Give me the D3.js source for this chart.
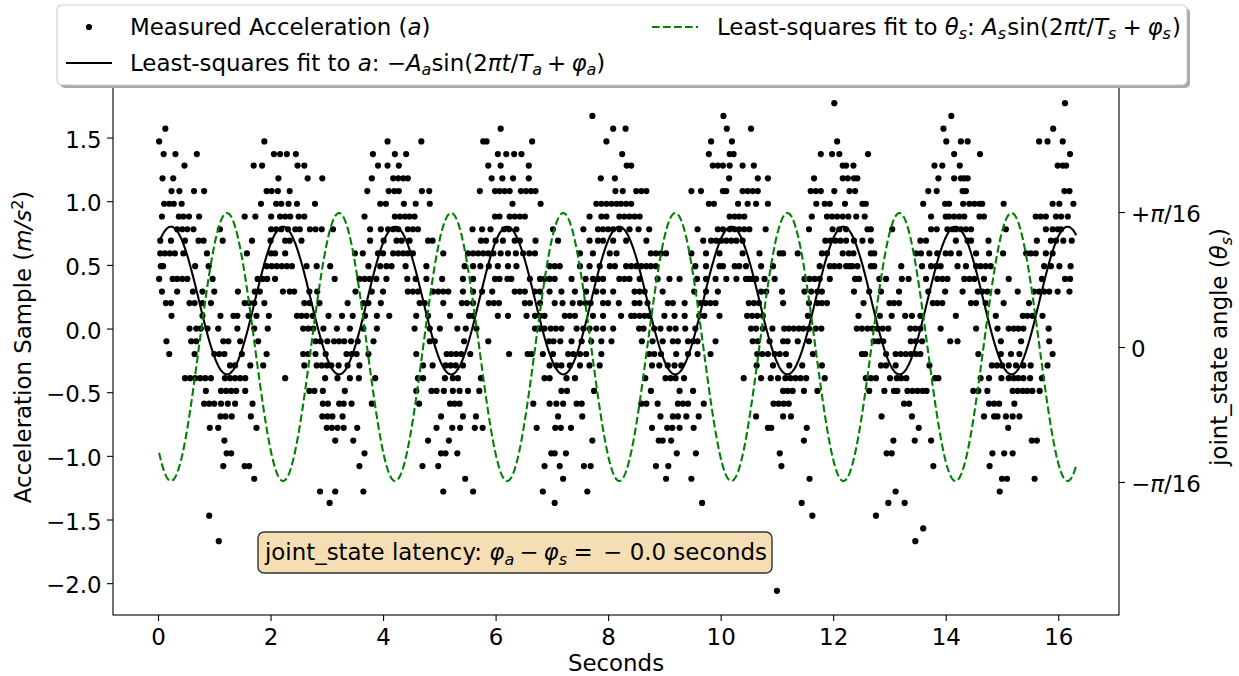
<!DOCTYPE html>
<html><head><meta charset="utf-8">
<script src="https://cdn.jsdelivr.net/npm/d3@7"></script>
<style>
body{margin:0;background:#fff}
svg{display:block}
text{font-family:"DejaVu Sans",sans-serif;white-space:pre;fill:#000}
</style>
</head><body>
<div id="chart"></div>
<script>
// ---- data ----
// acceleration samples are quantized; each level lists the times (s) at which it was observed
const accelLevels = [1.77,1.67,1.57,1.47,1.37,1.28,1.18,1.08,0.98,0.88,0.78,0.69,0.59,0.49,0.39,0.29,0.20,0.10,0.00,-0.10,-0.20,-0.29,-0.39,-0.49,-0.59,-0.69,-0.78,-0.88,-0.98,-1.08,-1.18,-1.28,-1.37,-1.47,-1.57,-1.67,-2.06];
const accelTimes = [
 [12.02,16.12],
 [7.72,10.05,14.10],
 [0.13,6.09,8.09,8.31,10.11,10.54,13.96,15.91],
 [0.02,1.89,4.08,4.68,5.78,5.84,6.65,7.97,9.83,10.20,12.07,14.01,14.27,14.39,15.66,15.81,16.08],
 [0.10,0.31,0.69,2.06,2.17,2.29,2.45,3.82,4.21,4.41,6.04,6.19,6.33,6.46,8.25,9.79,10.16,10.23,11.78,11.98,12.11,12.62,14.15,14.61,16.21],
 [0.47,1.70,1.85,2.48,2.60,3.91,4.08,4.28,5.87,6.09,6.59,8.33,8.41,9.86,9.95,10.04,10.16,10.39,10.59,12.17,12.23,12.36,13.80,13.94,14.25,15.99,16.08,16.14],
 [0.08,0.27,2.14,2.66,2.92,3.80,4.18,4.27,4.36,4.44,5.93,6.12,6.31,6.59,7.87,8.12,10.15,10.66,10.84,11.66,12.17,12.26,12.37,12.43,13.87,14.15,14.27,14.33,14.39],
 [0.24,0.38,0.64,0.82,1.93,2.02,2.13,2.34,3.72,4.10,4.20,4.28,4.69,4.82,5.72,5.99,6.07,6.16,6.25,6.45,6.54,6.63,6.71,8.13,8.26,8.50,8.59,8.68,9.48,9.65,10.04,10.10,10.39,10.48,10.57,10.66,11.60,11.69,11.78,12.02,12.29,12.39,13.69,13.84,14.30,14.36,16.11,16.20],
 [0.11,0.20,0.28,0.42,1.83,2.10,2.19,2.32,2.47,2.79,3.95,4.05,4.37,4.58,4.83,6.30,6.80,7.79,7.88,7.97,8.06,8.15,8.23,8.32,8.41,9.79,9.88,10.31,10.48,10.63,10.84,11.70,11.85,11.94,12.21,12.52,12.58,13.60,13.99,14.06,14.31,14.42,14.51,14.60,14.65,15.03,15.90,16.02,16.27],
 [0.07,0.37,0.45,0.55,0.73,1.54,1.73,2.01,2.17,2.26,2.35,2.50,2.60,3.67,4.21,4.30,4.39,4.47,4.56,5.99,6.07,6.25,6.34,6.43,6.52,7.67,7.88,7.97,8.20,8.29,8.38,8.47,8.56,10.16,10.25,10.33,10.42,11.62,11.89,11.98,12.07,12.17,12.27,12.41,12.56,13.74,14.00,14.06,14.15,14.24,14.33,14.60,14.68,15.60,15.69,15.78,15.96,16.05,16.17],
 [0.34,0.43,0.52,0.63,1.10,2.01,2.10,2.19,2.31,2.44,2.52,2.70,2.80,2.91,3.11,3.77,3.96,4.09,4.18,4.27,4.44,4.53,4.62,5.59,5.76,5.91,6.15,6.24,6.37,7.02,7.56,7.82,7.91,8.00,8.09,8.20,8.38,8.54,8.73,9.59,9.95,10.04,10.16,10.25,10.33,10.42,10.51,10.80,11.57,11.99,12.11,12.23,12.61,12.67,13.05,13.74,13.84,14.03,14.12,14.18,14.27,14.36,14.45,15.07,15.78,15.90,15.99,16.05],
 [0.04,0.23,0.48,0.72,0.81,1.15,1.67,2.00,2.26,2.34,2.55,3.77,4.01,4.24,4.33,4.47,4.80,4.88,5.74,5.83,6.00,6.13,6.34,6.43,6.71,7.11,7.67,7.82,7.91,8.09,8.32,8.68,9.69,9.83,9.92,10.01,10.10,10.19,10.28,10.39,11.86,11.95,12.04,12.13,12.23,12.37,12.52,12.67,13.55,13.65,14.18,14.39,14.45,14.76,15.62,15.87,15.96,16.09,16.24],
 [0.04,0.12,0.21,0.30,0.45,0.87,1.58,2.01,2.08,2.26,3.50,3.64,3.91,4.00,4.18,4.27,4.36,4.44,4.53,5.07,5.51,5.60,5.69,5.78,5.87,5.96,6.09,6.22,6.36,6.49,6.60,6.70,7.50,7.73,8.03,8.15,8.76,8.85,8.94,9.03,9.48,9.74,9.98,10.39,10.69,11.05,11.11,11.37,11.80,11.89,12.17,12.28,12.36,12.67,12.73,13.47,13.56,13.71,13.85,14.00,14.09,14.24,14.54,14.77,15.02,15.43,15.51,15.60,15.78,15.90],
 [0.05,0.09,0.66,0.90,1.93,2.02,2.11,2.20,2.29,2.38,2.64,2.82,3.06,3.74,3.95,4.06,4.15,4.40,4.77,5.45,5.60,5.73,5.88,6.04,6.22,6.37,6.96,7.05,7.14,7.50,7.67,7.85,8.03,8.12,8.32,8.41,8.50,8.59,8.68,8.76,8.85,9.55,9.74,9.98,10.04,10.25,10.33,10.45,10.72,10.93,11.76,11.94,12.02,12.11,12.23,12.29,12.34,12.43,12.67,12.73,13.21,13.58,13.74,13.83,13.91,14.21,14.36,14.54,14.62,14.71,14.80,15.75,15.87,16.02,16.22],
 [0.02,0.26,0.34,0.43,0.52,0.97,1.77,1.86,1.94,2.08,3.14,3.58,3.67,3.76,3.88,4.06,4.43,4.58,4.77,5.05,5.42,5.60,5.99,6.07,6.21,6.28,6.61,6.79,6.87,6.96,7.05,7.35,7.60,7.73,7.82,7.91,8.20,8.29,8.38,8.56,8.88,9.09,9.27,9.58,9.74,9.91,10.10,10.28,10.45,10.51,10.57,10.63,10.78,10.96,11.49,11.58,11.67,11.76,11.94,12.39,12.46,12.82,12.94,13.22,13.34,13.65,13.85,13.94,14.03,14.33,14.42,14.51,14.68,15.12,15.71,16.12,16.21],
 [0.07,0.34,0.62,0.79,1.00,1.42,1.72,1.81,2.22,2.34,2.42,2.69,2.83,3.51,3.80,4.00,4.44,4.53,4.62,4.89,4.98,5.07,5.16,5.42,5.60,5.76,5.94,6.34,6.43,6.52,6.70,6.79,6.96,7.17,7.41,7.61,7.79,7.91,8.09,8.47,8.56,8.65,8.97,9.53,9.74,9.95,10.72,10.81,11.09,11.49,11.61,11.72,11.80,12.37,12.64,12.85,13.17,13.69,13.99,14.30,14.57,14.65,14.74,14.92,15.28,15.57,15.66,15.75,15.84,15.99,16.20],
 [0.14,0.23,0.56,0.65,0.79,0.94,1.54,1.62,1.71,1.89,2.60,2.69,2.87,3.37,3.65,3.74,3.96,4.65,4.74,5.07,5.40,5.49,5.60,5.88,5.97,6.06,6.52,6.61,6.79,7.05,7.19,7.37,7.50,7.60,7.69,7.91,8.00,8.19,8.47,8.56,8.70,9.06,9.15,9.36,9.64,9.73,9.82,9.91,10.50,10.59,10.68,11.11,11.57,11.72,11.80,11.89,12.54,13.00,13.08,13.17,13.77,13.85,13.94,14.45,14.54,14.71,15.03,15.48],
 [0.24,0.79,1.11,1.34,1.41,1.61,1.75,1.97,2.47,2.55,2.64,2.75,3.03,3.27,3.46,3.68,3.89,4.11,4.59,4.80,5.19,5.53,5.60,6.04,6.22,6.55,6.70,6.79,6.87,7.23,7.32,7.41,7.73,7.91,8.23,8.41,8.47,8.56,8.65,8.73,9.00,9.18,9.36,9.62,9.71,9.98,10.47,10.56,10.65,10.75,11.55,12.45,12.83,13.04,13.28,13.40,13.55,14.18,14.89,15.37,15.45,15.54,15.72],
 [0.56,0.68,0.76,0.88,1.07,1.41,1.71,1.95,2.58,2.67,2.76,2.94,3.18,3.41,3.65,3.89,4.56,4.83,5.01,5.32,5.47,5.66,6.70,6.79,6.87,6.98,7.07,7.17,7.44,7.56,7.67,7.79,7.91,8.09,8.55,8.63,8.82,8.93,9.09,9.20,9.37,9.55,10.54,10.63,10.75,10.92,11.13,11.21,11.30,11.39,11.47,11.57,11.69,11.79,12.42,12.51,12.61,12.70,12.79,12.88,12.98,13.37,13.46,13.55,13.91,14.54,14.92,15.12,15.21,15.29,15.38,15.83],
 [0.15,0.59,0.68,1.16,1.25,1.46,1.78,2.80,2.89,3.01,3.13,3.22,3.31,3.43,3.55,3.83,4.83,4.92,5.44,5.87,6.95,7.03,7.15,7.35,7.53,7.70,7.88,8.06,8.60,8.79,8.97,9.15,9.24,9.42,9.51,9.59,9.91,10.57,10.66,10.87,11.11,11.19,11.37,11.57,12.72,12.80,12.89,13.38,13.47,13.58,14.08,14.21,14.98,15.34,15.84],
 [0.20,0.65,1.00,1.09,1.18,1.49,1.93,2.58,2.67,2.80,2.98,3.35,3.44,3.53,3.74,4.59,5.13,5.21,5.30,5.39,5.55,6.24,6.57,6.64,6.84,7.02,7.29,7.38,7.50,7.61,7.88,8.73,8.82,8.94,9.21,9.42,9.59,9.82,10.65,10.74,10.84,10.96,11.05,11.16,11.64,12.51,12.57,12.94,13.11,13.20,13.29,13.38,13.47,13.55,14.58,14.98,15.16,15.31,15.90],
 [1.28,1.37,1.64,1.87,2.60,2.82,2.91,3.00,3.08,3.21,3.37,3.58,4.71,4.88,5.11,5.20,5.29,5.42,6.96,7.08,7.17,7.32,7.50,7.67,7.85,8.78,8.91,9.06,9.18,9.30,10.64,10.93,11.22,11.45,11.80,12.85,12.94,13.11,13.71,14.82,14.91,15.00,15.12,15.25,15.38,15.51,15.81],
 [0.48,0.57,0.66,0.75,0.84,0.94,1.19,1.28,1.37,1.46,1.55,2.26,2.97,3.19,3.41,3.57,3.86,4.62,4.71,5.10,5.24,5.33,5.74,6.87,6.96,7.26,7.41,8.66,9.02,9.11,9.20,9.35,10.41,10.72,10.89,11.02,11.15,11.24,11.33,11.42,11.52,11.85,12.58,12.67,12.76,13.01,13.13,13.21,13.30,13.81,13.87,14.62,14.77,14.99,15.12,15.21,15.29,15.38,15.50,15.71],
 [0.85,1.12,1.21,1.30,1.39,1.55,2.69,2.78,2.93,3.32,4.59,4.86,4.95,5.08,5.24,5.36,5.51,5.71,7.17,7.27,7.75,8.76,9.27,9.51,11.11,11.19,11.28,11.48,11.72,12.64,12.91,13.08,13.14,13.32,13.41,13.50,13.59,13.66,14.49,14.58,14.74,15.19,15.28,15.37,15.45,15.54,15.67],
 [0.82,0.91,1.00,1.12,1.24,1.37,1.68,2.93,3.02,3.22,3.30,3.44,3.80,4.64,5.19,5.27,5.36,6.67,6.96,7.08,7.20,7.44,7.53,8.59,8.68,8.88,9.24,9.33,9.42,9.70,10.94,11.03,11.12,11.21,13.26,13.35,14.77,14.86,14.95,15.22],
 [1.11,1.20,1.31,1.65,2.92,3.01,3.10,3.28,5.03,5.42,5.65,7.11,7.54,8.93,9.15,9.24,9.39,9.61,10.63,11.11,11.25,12.86,13.40,14.68,14.86,14.92,15.07,15.19,15.31],
 [0.92,1.07,1.75,3.00,3.09,3.19,3.30,3.54,4.95,5.23,5.37,5.63,5.77,6.73,7.06,7.16,7.34,8.78,9.05,9.14,9.27,9.52,10.84,10.90,11.53,13.52,15.11],
 [1.18,3.15,3.47,4.80,5.17,7.72,8.90,8.97,9.12,11.48,13.07,13.45,13.74,15.53,15.62],
 [1.22,1.30,3.67,5.03,5.11,5.32,6.99,7.05,7.25,9.22,9.56,11.05,12.95,13.04,14.83,15.04,15.19],
 [1.16,1.54,1.62,3.58,4.70,4.98,6.87,7.14,7.57,7.69,8.85,9.07,11.08,13.78,14.78],
 [1.71,5.46,7.20,9.03,9.48,11.58,15.00,15.09,15.58],
 [2.88,3.15,3.65,5.07,5.60,6.84,7.63,13.11,14.96],
 [3.05,7.05,9.67,11.44,12.98,13.27],
 [0.91,11.63,12.76],
 [13.60],
 [1.08,13.46],
 [11.00]
];

// least-squares fit parameters
const fitTimeRange = [0.02, 16.32];
const fitA = {offset: 0.22, amp: 0.58, period: 1.992, phase: -2.296};   // a(t) = offset - amp*sin(2πt/T + φ)
const fitS = {amp: 0.993 * Math.PI / 16, period: 1.992, phase: -2.296};   // θ(t) = amp*sin(2πt/T + φ)

const xTicks = [0, 2, 4, 6, 8, 10, 12, 14, 16];
const yTicks = [-2.0, -1.5, -1.0, -0.5, 0.0, 0.5, 1.0, 1.5];
const rightTicks = [-Math.PI / 16, 0, Math.PI / 16];
const rightTickLabels = [[["\u2212",""],["π","i"],["/16",""]], [["0",""]], [["+",""],["π","i"],["/16",""]]];

// ---- layout ----
const W = 1239, H = 676, FS = 22.9;
const L = 113, R = 1119, T = 79, B = 615;
const TICK = 6;

const svg = d3.select('#chart').append('svg').attr('width', W).attr('height', H);
svg.append('rect').attr('width', W).attr('height', H).attr('fill', '#fff');

const x = d3.scaleLinear().domain([-0.8, 17.08]).range([L, R]);
const yL = d3.scaleLinear().domain([-2.25, 1.96]).range([B, T]);
const yR = d3.scaleLinear().domain([-1.986 * Math.PI / 16, 1.986 * Math.PI / 16]).range([B, T]);

// parts: [text, style('', 'i', 'sub', 'sup'), extra space before (em)]
function rich(textSel, parts, fs) {
  let cur = 0;
  parts.forEach(([txt, st, pre]) => {
    const ts = textSel.append('tspan').text(txt);
    let target = 0;
    if (st === 'i') ts.attr('font-style', 'italic');
    if (st === 'sub') { ts.attr('font-style', 'italic').attr('font-size', fs * 0.7); target = fs * 0.2; }
    if (st === 'sup') { ts.attr('font-size', fs * 0.7); target = -fs * 0.36; }
    if (target !== cur) { ts.attr('dy', target - cur); cur = target; }
    if (pre) ts.attr('dx', pre * fs);
  });
}

// scatter
const pts = [];
accelLevels.forEach((v, i) => accelTimes[i].forEach(t => pts.push({t, v})));
svg.append('g').selectAll('circle').data(pts).join('circle')
  .attr('cx', d => x(d.t)).attr('cy', d => yL(d.v)).attr('r', 3.1).attr('fill', '#000');

// fits
const ts = d3.range(fitTimeRange[0], fitTimeRange[1] + 1e-9, 0.01);
const fitAData = ts.map(t => ({t, v: fitA.offset - fitA.amp * Math.sin(2 * Math.PI * t / fitA.period + fitA.phase)}));
const fitSData = ts.map(t => ({t, v: fitS.amp * Math.sin(2 * Math.PI * t / fitS.period + fitS.phase)}));
svg.append('path').datum(fitAData)
  .attr('d', d3.line().x(d => x(d.t)).y(d => yL(d.v)))
  .attr('fill', 'none').attr('stroke', '#000').attr('stroke-width', 2.1);
svg.append('path').datum(fitSData)
  .attr('d', d3.line().x(d => x(d.t)).y(d => yR(d.v)))
  .attr('fill', 'none').attr('stroke', '#008000').attr('stroke-width', 2.1).attr('stroke-dasharray', '7.7,3.3');

// frame
svg.append('rect').attr('x', L).attr('y', T).attr('width', R - L).attr('height', B - T)
  .attr('fill', 'none').attr('stroke', '#000').attr('stroke-width', 1.1);

function styleAxis(g) {
  g.select('.domain').remove();
  g.selectAll('line').attr('stroke', '#000').attr('stroke-width', 1.1);
  g.selectAll('text').attr('font-size', FS).attr('fill', '#000').attr('font-family', 'DejaVu Sans');
}
const gx = svg.append('g').attr('transform', `translate(0,${B})`)
  .call(d3.axisBottom(x).tickValues(xTicks).tickSize(TICK).tickPadding(7.7).tickFormat(d3.format('d')));
styleAxis(gx);
const gy = svg.append('g').attr('transform', `translate(${L},0)`)
  .call(d3.axisLeft(yL).tickValues(yTicks).tickSize(TICK).tickPadding(5.4).tickFormat(d3.format('.1f')));
styleAxis(gy); gy.selectAll('text').attr('dy', '0.42em');
const gr = svg.append('g').attr('transform', `translate(${R},0)`)
  .call(d3.axisRight(yR).tickValues(rightTicks).tickSize(TICK).tickPadding(6).tickFormat(() => ''));
styleAxis(gr);
gr.selectAll('.tick text').attr('dy', '0.42em').each(function(d, i) { rich(d3.select(this), rightTickLabels[i], FS); });

// axis labels
svg.append('text').attr('x', (L + R) / 2).attr('y', 671).attr('text-anchor', 'middle').attr('font-size', FS).text('Seconds');
const ylab = svg.append('text').attr('transform', `translate(31,${(T + B) / 2}) rotate(-90)`).attr('text-anchor', 'middle').attr('font-size', FS);
rich(ylab, [["Acceleration Sample (", ""], ["m/s", "i"], ["2", "sup"], [")", ""]], FS);
const rlab = svg.append('text').attr('transform', `translate(1227,${(T + B) / 2}) rotate(-90)`).attr('text-anchor', 'middle').attr('font-size', FS);
rich(rlab, [["joint_state angle (", ""], ["θ", "i"], ["s", "sub"], [")", ""]], FS);

// latency box
svg.append('rect').attr('x', 258).attr('y', 532).attr('width', 514).attr('height', 41).attr('rx', 6)
  .attr('fill', '#f5deb3').attr('stroke', '#333').attr('stroke-width', 1.4);
const lat = svg.append('text').attr('x', 265).attr('y', 560).attr('font-size', FS);
rich(lat, [["joint_state latency: ", ""], ["φ", "i"], ["a", "sub"], ["\u2212", "", 0.222], ["φ", "i", 0.222], ["s", "sub"],
  ["=", "", 0.278], ["\u2212", "", 0.45], ["0.0", "", 0.33], [" seconds", ""]], FS);

// legend
const lg = svg.append('g');
lg.append('rect').attr('x', 60).attr('y', 8).attr('width', 1130).attr('height', 80).attr('rx', 5).attr('fill', '#a8a8a8');
lg.append('rect').attr('x', 57).attr('y', 5).attr('width', 1130).attr('height', 80).attr('rx', 5)
  .attr('fill', '#fff').attr('stroke', '#cccccc').attr('stroke-width', 1.1);
lg.append('circle').attr('cx', 89).attr('cy', 27).attr('r', 3.1).attr('fill', '#000');
lg.append('line').attr('x1', 66).attr('x2', 112).attr('y1', 63).attr('y2', 63).attr('stroke', '#000').attr('stroke-width', 2.1);
lg.append('line').attr('x1', 652).attr('x2', 698).attr('y1', 27).attr('y2', 27).attr('stroke', '#008000').attr('stroke-width', 2.1).attr('stroke-dasharray', '7.7,3.3');
const t1 = lg.append('text').attr('x', 130).attr('y', 34.5).attr('font-size', FS);
rich(t1, [["Measured Acceleration (", ""], ["a", "i"], [")", ""]], FS);
const t2 = lg.append('text').attr('x', 130).attr('y', 70.5).attr('font-size', FS);
rich(t2, [["Least-squares fit to ", ""], ["a", "i"], [": \u2212", ""], ["A", "i"], ["a", "sub"], ["sin(2", ""], ["πt", "i"], ["/", ""], ["T", "i"], ["a", "sub"], ["+", "", 0.222], ["φ", "i", 0.222], ["a", "sub"], [")", ""]], FS);
const t3 = lg.append('text').attr('x', 717).attr('y', 34.5).attr('font-size', FS);
rich(t3, [["Least-squares fit to ", ""], ["θ", "i"], ["s", "sub"], [": ", ""], ["A", "i"], ["s", "sub"], ["sin(2", "", 0.05], ["πt", "i"], ["/", ""], ["T", "i"], ["s", "sub"], ["+", "", 0.27], ["φ", "i", 0.25], ["s", "sub"], [")", "", 0.05]], FS);
</script>
</body></html>
